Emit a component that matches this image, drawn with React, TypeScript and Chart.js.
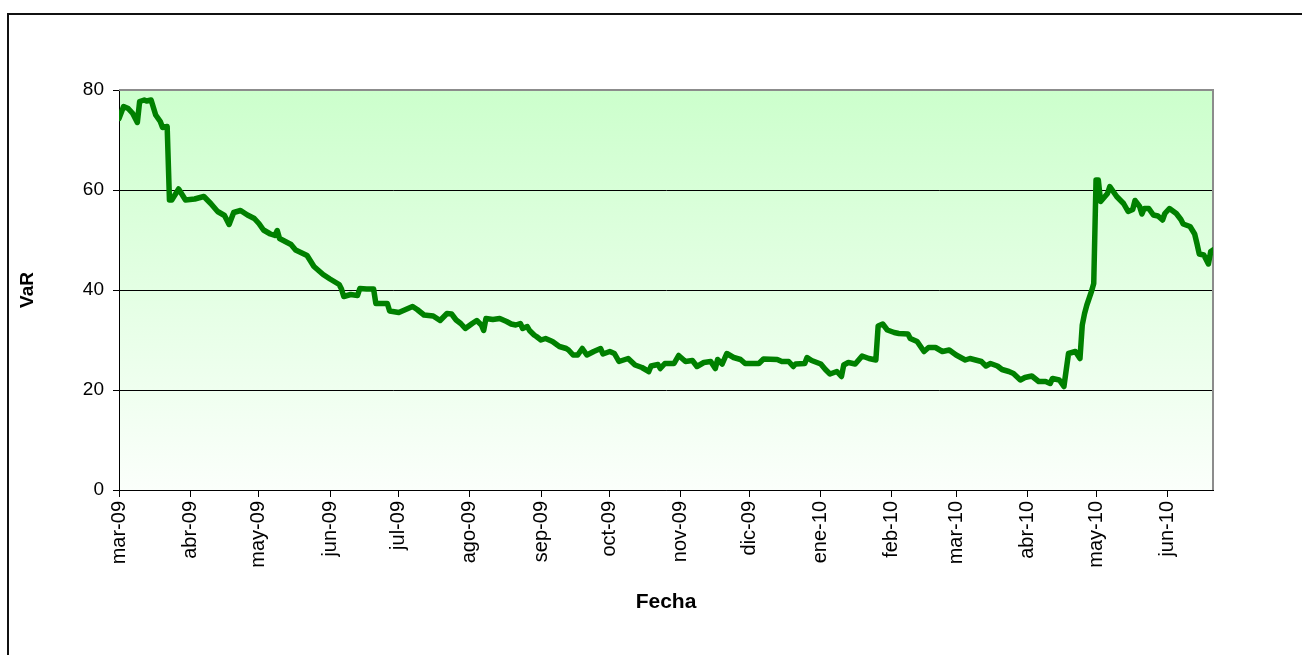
import React, { useEffect, useRef } from "react";
import { Chart, registerables } from "chart.js";

Chart.register(...registerables);

// Day offsets counted from 2009-03-01
const dayOffsets = [
  0, 2, 4, 6, 8, 9, 11, 12, 14, 16, 18, 19, 21, 22, 23, 26, 29, 33, 37, 40,
  43, 46, 48, 50, 53, 56, 59, 61, 63, 66, 68, 69, 70, 75, 77, 82, 85, 89, 92, 96,
  97, 98, 101, 104, 105, 108, 111, 112, 117, 118, 122, 128, 130, 133, 137, 140, 143, 145, 147, 149,
  151, 154, 156, 158, 159, 160, 163, 166, 169, 171, 173, 175, 176, 178, 179, 181, 182, 184, 186, 189,
  192, 195, 196, 198, 200, 202, 204, 207, 210, 211, 214, 216, 218, 222, 225, 228, 231, 232, 235, 236,
  238, 242, 244, 247, 250, 252, 255, 258, 260, 261, 263, 265, 268, 271, 273, 279, 281, 287, 289, 292,
  294, 295, 299, 300, 302, 306, 308, 310, 313, 315, 316, 318, 321, 324, 327, 330, 331, 333, 335, 338,
  340, 344, 345, 348, 351, 353, 356, 359, 362, 365, 369, 371, 376, 378, 380, 383, 385, 388, 390, 393,
  395, 398, 401, 404, 406, 407, 410, 412, 414, 417, 419, 420, 421, 422, 424, 425, 426, 427, 428, 431,
  432, 435, 438, 440, 442, 443, 445, 446, 447, 449, 451, 453, 455, 456, 458, 461, 463, 464, 467, 469,
  470, 471, 473, 475, 476, 477,
];

const varValues = [
  74.3, 76.7, 76.3, 75.3, 73.5, 77.7, 78, 77.8, 78, 75, 73.7, 72.5, 72.7, 58, 58, 60.2, 58, 58.2, 58.7, 57.3,
  55.7, 54.9, 53.1, 55.5, 55.9, 55, 54.3, 53.3, 52, 51.2, 50.9, 51.9, 50.3, 49.1, 48, 46.9, 44.7, 43.1, 42.2, 41.1,
  40.2, 38.7, 39.1, 38.9, 40.3, 40.2, 40.2, 37.3, 37.3, 35.8, 35.5, 36.7, 36.1, 35, 34.8, 33.9, 35.3, 35.2, 34, 33.3,
  32.3, 33.3, 33.9, 33, 31.9, 34.3, 34.1, 34.3, 33.7, 33.2, 33, 33.3, 32.3, 32.7, 31.9, 31, 30.7, 30, 30.3, 29.7,
  28.7, 28.3, 28, 27, 27, 28.3, 27, 27.7, 28.3, 27.2, 27.7, 27.3, 25.7, 26.3, 25, 24.5, 23.7, 24.8, 25.1, 24.3,
  25.3, 25.3, 26.9, 25.7, 25.9, 24.7, 25.5, 25.7, 24.3, 26.1, 25.2, 27.3, 26.5, 26.1, 25.3, 25.3, 26.2, 26.1, 25.7, 25.7,
  24.7, 25.2, 25.3, 26.5, 25.9, 25.2, 24.1, 23.2, 23.7, 22.7, 25, 25.5, 25.2, 26.8, 26.3, 26, 32.8, 33.2, 32, 31.5,
  31.3, 31.2, 30.3, 29.7, 27.7, 28.5, 28.5, 27.7, 28, 27, 26, 26.3, 25.7, 24.8, 25.3, 24.8, 24.1, 23.7, 23.3, 22,
  22.5, 22.8, 21.7, 21.7, 21.3, 22.3, 22, 20.7, 27.3, 27.7, 26.3, 33, 35.3, 37, 39.7, 41.3, 62, 62, 57.7, 59.3,
  60.7, 58.7, 57.3, 55.7, 56.1, 57.9, 56.7, 55.2, 56.3, 56.3, 55, 54.8, 54, 55.3, 56.3, 55.3, 54.1, 53.2, 52.7, 51.2,
  49.3, 47.2, 47, 45.2, 47.7, 48,
];

const monthTickDays = [0, 31, 61, 92, 122, 153, 184, 214, 245, 275, 306, 337, 365, 396, 426, 457];
const monthTickLabels = [
  "mar-09", "abr-09", "may-09", "jun-09", "jul-09", "ago-09", "sep-09", "oct-09",
  "nov-09", "dic-09", "ene-10", "feb-10", "mar-10", "abr-10", "may-10", "jun-10",
];
const yTicks = [0, 20, 40, 60, 80];
const xTitle = "Fecha";
const yTitle = "VaR";

const FONT = "'Liberation Sans', Arial, sans-serif";

export default function App() {
  const ref = useRef<HTMLCanvasElement | null>(null);

  useEffect(() => {
    if (!ref.current) return;
    const points = dayOffsets.map((d, i) => ({ x: d, y: varValues[i] }));

    const decor = {
      id: "decor",
      beforeDraw(chart: any) {
        const { ctx, chartArea } = chart;
        const { left, top, right, bottom } = chartArea;
        ctx.save();
        // outer frame
        ctx.fillStyle = "#111";
        ctx.fillRect(7, 13, 2, 660);
        ctx.fillRect(7, 13, 1310, 2);
        // plot background gradient
        const g = ctx.createLinearGradient(0, top, 0, bottom);
        g.addColorStop(0, "#ccffcc");
        g.addColorStop(1, "#fbfffb");
        ctx.fillStyle = g;
        ctx.fillRect(left, top, right - left, bottom - top);
        ctx.restore();
      },
      beforeDatasetsDraw(chart: any) {
        const { ctx, chartArea } = chart;
        const { left, top, right, bottom } = chartArea;
        ctx.save();
        ctx.fillStyle = "#8c8c8c";
        ctx.fillRect(left, top - 1, right - left + 1, 2);
        ctx.fillRect(right - 1, top - 1, 2, bottom - top + 1);
        ctx.restore();
      },
    };

    const chart = new Chart(ref.current, {
      type: "line",
      data: {
        datasets: [
          {
            data: points,
            borderColor: "#008000",
            borderWidth: 5.5,
            pointRadius: 0,
            tension: 0,
            borderJoinStyle: "round",
            borderCapStyle: "round",
            fill: false,
          },
        ],
      },
      options: {
        animation: false,
        responsive: false,
        devicePixelRatio: 1,
        layout: { padding: { left: 12, top: 90, right: 89, bottom: 36 } },
        plugins: { legend: { display: false }, tooltip: { enabled: false } },
        scales: {
          x: {
            type: "linear",
            min: 0,
            max: 477,
            afterBuildTicks: (scale: any) => {
              scale.ticks = monthTickDays.map((v) => ({ value: v }));
            },
            afterFit: (scale: any) => {
              scale.height = 129;
            },
            ticks: {
              autoSkip: false,
              minRotation: 90,
              maxRotation: 90,
              padding: 4,
              color: "#000",
              font: { family: FONT, size: 20 },
              callback: (v: any) => {
                const i = monthTickDays.indexOf(Number(v));
                return i >= 0 ? monthTickLabels[i] : "";
              },
            },
            grid: {
              drawOnChartArea: false,
              drawTicks: true,
              tickLength: 7,
              tickColor: "#000",
              color: "#000",
            },
            border: { color: "#000", width: 1 },
            title: {
              display: true,
              text: xTitle,
              color: "#000",
              font: { family: FONT, size: 21, weight: "bold" },
            },
          },
          y: {
            min: 0,
            max: 80,
            afterBuildTicks: (scale: any) => {
              scale.ticks = yTicks.map((v) => ({ value: v }));
            },
            afterFit: (scale: any) => {
              scale.width = 107;
            },
            ticks: {
              padding: 9,
              color: "#000",
              font: { family: FONT, size: 19 },
            },
            grid: {
              color: (c: any) => (c.tick && c.tick.value === 80 ? "rgba(0,0,0,0)" : "#000"),
              tickColor: "#000",
              tickLength: 6,
              lineWidth: 1,
            },
            border: { color: "#000", width: 1 },
            title: {
              display: true,
              text: yTitle,
              color: "#000",
              font: { family: FONT, size: 19, weight: "bold" },
            },
          },
        },
      },
      plugins: [decor],
    } as any);

    return () => chart.destroy();
  }, []);

  return (
    <canvas
      ref={ref}
      width={1302}
      height={655}
      style={{ position: "absolute", left: 0, top: 0, width: 1302, height: 655 }}
    />
  );
}
